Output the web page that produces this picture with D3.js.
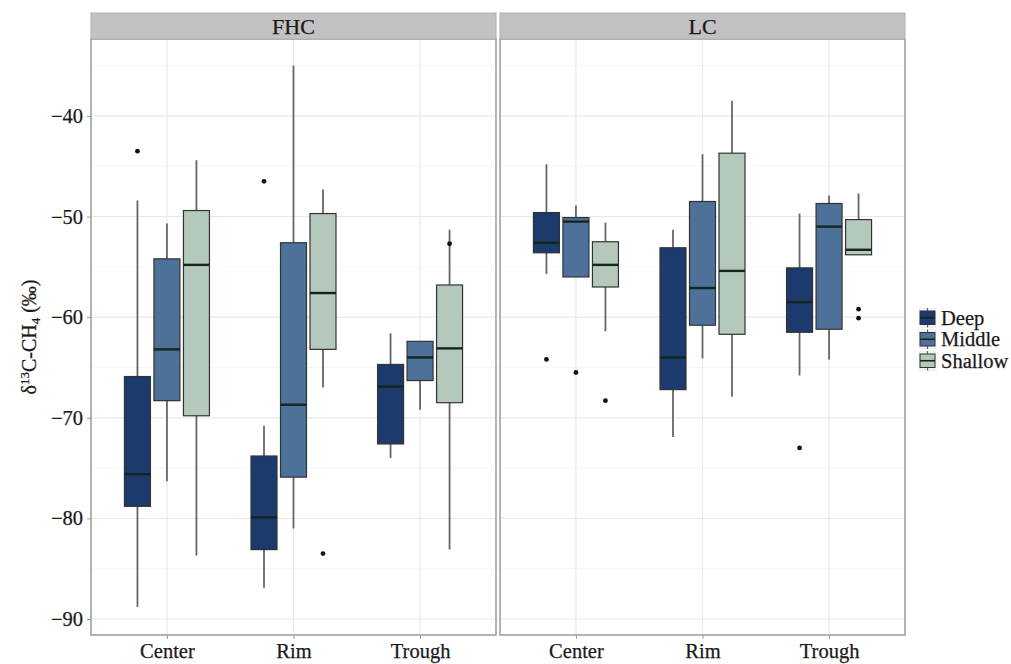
<!DOCTYPE html>
<html><head><meta charset="utf-8">
<script src="https://cdn.jsdelivr.net/npm/d3@7"></script>
<style>body{margin:0;background:#fff}svg{display:block}</style>
</head><body>
<svg id="chart" width="1011" height="664"></svg>
<script>
const panels = ["FHC", "LC"];
const sites = ["Center", "Rim", "Trough"];
const depths = ["Deep", "Middle", "Shallow"];
const depthColors = ["#1d3a6c", "#4e7199", "#b4c8bb"];
const yTicks = [-90, -80, -70, -60, -50, -40];

// per site: [lower whisker, Q1, median, Q3, upper whisker]
const fhcDeep    = [[-88.8, -78.8, -75.6, -65.9, -48.4], [-86.9, -83.1, -79.9, -73.8, -70.8], [-74.0, -72.6, -66.9, -64.7, -61.6]];
const fhcMiddle  = [[-76.3, -68.3, -63.2, -54.2, -50.7], [-81.0, -75.9, -68.7, -52.6, -35.0], [-69.2, -66.3, -64.0, -62.4, -62.4]];
const fhcShallow = [[-83.7, -69.8, -54.8, -49.4, -44.4], [-67.0, -63.2, -57.6, -49.7, -47.3], [-83.1, -68.5, -63.1, -56.8, -51.3]];
const lcDeep     = [[-55.7, -53.6, -52.6, -49.6, -44.8], [-71.9, -67.2, -64.0, -53.1, -51.3], [-65.8, -61.5, -58.5, -55.1, -49.7]];
const lcMiddle   = [[-56.0, -56.0, -50.5, -50.1, -48.9], [-64.1, -60.8, -57.1, -48.5, -43.8], [-64.2, -61.2, -51.0, -48.7, -47.9]];
const lcShallow  = [[-61.4, -57.0, -54.8, -52.5, -50.6], [-67.9, -61.7, -55.4, -43.7, -38.5], [-53.8, -53.8, -53.3, -50.3, -47.7]];

// outliers: [site, depth, value]
const fhcOutliers = [["Center", "Deep", -43.5], ["Rim", "Deep", -46.5], ["Rim", "Shallow", -83.5], ["Trough", "Shallow", -52.7]];
const lcOutliers  = [["Center", "Deep", -64.2], ["Center", "Middle", -65.5], ["Center", "Shallow", -68.3],
                     ["Trough", "Deep", -73.0], ["Trough", "Shallow", -59.2], ["Trough", "Shallow", -60.1]];

const panelStats = {FHC: [fhcDeep, fhcMiddle, fhcShallow], LC: [lcDeep, lcMiddle, lcShallow]};
const panelOutliers = {FHC: fhcOutliers, LC: lcOutliers};

const svg = d3.select("#chart");
const font = "'Liberation Serif', 'Times New Roman', serif";
const textCol = "#1a1a1a";
const plotTop = 39, plotBottom = 635, stripTop = 13;
const panelX = {FHC: [91, 496], LC: [500, 905]};

const y = d3.scaleLinear().domain([-91.59, -32.35]).range([plotBottom, plotTop]);
const dodge = d3.scalePoint().domain(depths).range([-29.5, 29.5]);
const color = d3.scaleOrdinal().domain(depths).range(depthColors);
const boxW = 26;

function styleText(sel, size) {
  sel.attr("font-family", font).attr("font-size", size).attr("fill", textCol)
     .attr("stroke", textCol).attr("stroke-width", 0.25);
}

panels.forEach(p => {
  const [x0, x1] = panelX[p];
  const x = d3.scalePoint().domain(sites).range([x0, x1]).padding(0.6);
  const g = svg.append("g");

  const minor = d3.range(-85, -32, 10);
  g.selectAll(".minor").data(minor).join("line")
    .attr("x1", x0).attr("x2", x1).attr("y1", d => y(d)).attr("y2", d => y(d))
    .attr("stroke", "#f4f4f4").attr("stroke-width", 0.8);
  g.selectAll(".major").data(yTicks).join("line")
    .attr("x1", x0).attr("x2", x1).attr("y1", d => y(d)).attr("y2", d => y(d))
    .attr("stroke", "#e9e9e9").attr("stroke-width", 1.2);
  g.selectAll(".vgrid").data(sites).join("line")
    .attr("x1", d => x(d)).attr("x2", d => x(d)).attr("y1", plotTop).attr("y2", plotBottom)
    .attr("stroke", "#e9e9e9").attr("stroke-width", 1.2);

  const stats = panelStats[p];
  const recs = [];
  depths.forEach((dep, di) => sites.forEach((s, si) => {
    const [lo, q1, med, q3, hi] = stats[di][si];
    recs.push({site: s, depth: dep, lo, q1, med, q3, hi});
  }));
  const bg = g.selectAll(".box").data(recs).join("g")
    .attr("transform", d => `translate(${x(d.site) + dodge(d.depth)},0)`);
  bg.append("line").attr("x1", 0).attr("x2", 0).attr("y1", d => y(d.hi)).attr("y2", d => y(d.q3))
    .attr("stroke", "#666").attr("stroke-width", 1.8);
  bg.append("line").attr("x1", 0).attr("x2", 0).attr("y1", d => y(d.q1)).attr("y2", d => y(d.lo))
    .attr("stroke", "#666").attr("stroke-width", 1.8);
  bg.append("rect").attr("x", -boxW / 2).attr("width", boxW)
    .attr("y", d => y(d.q3)).attr("height", d => y(d.q1) - y(d.q3))
    .attr("fill", d => color(d.depth)).attr("stroke", "#333").attr("stroke-width", 1.2);
  bg.append("line").attr("x1", -boxW / 2).attr("x2", boxW / 2).attr("y1", d => y(d.med)).attr("y2", d => y(d.med))
    .attr("stroke", "#15261f").attr("stroke-width", 2.4);

  g.selectAll(".out").data(panelOutliers[p]).join("circle")
    .attr("cx", d => x(d[0]) + dodge(d[1])).attr("cy", d => y(d[2])).attr("r", 2.4).attr("fill", "#111");

  g.append("rect").attr("x", x0).attr("y", plotTop).attr("width", x1 - x0).attr("height", plotBottom - plotTop)
    .attr("fill", "none").attr("stroke", "#a0a0a0").attr("stroke-width", 1.6);
  g.append("rect").attr("x", x0).attr("y", stripTop).attr("width", x1 - x0).attr("height", plotTop - stripTop)
    .attr("fill", "#c2c2c2").attr("stroke", "#b0b0b0").attr("stroke-width", 1);
  g.append("text").attr("x", (x0 + x1) / 2).attr("y", 33.5).attr("text-anchor", "middle")
    .call(styleText, 22).text(p);

  const xa = g.append("g").attr("transform", `translate(0,${plotBottom})`)
    .call(d3.axisBottom(x).tickSize(4).tickPadding(4));
  xa.select(".domain").remove();
  xa.selectAll(".tick line").attr("stroke", "#999");
  xa.selectAll("text").call(styleText, 20.5);

  if (p === "FHC") {
    const ya = g.append("g").attr("transform", `translate(${x0},0)`)
      .call(d3.axisLeft(y).tickValues(yTicks).tickSize(4).tickPadding(4).tickFormat(d => "\u2212" + Math.abs(d)));
    ya.select(".domain").remove();
    ya.selectAll(".tick line").attr("stroke", "#999");
    ya.selectAll("text").call(styleText, 20.5);
  }
});

const yt = svg.append("text").attr("transform", `translate(36,${(plotTop + plotBottom) / 2}) rotate(-90)`)
  .attr("text-anchor", "middle").call(styleText, 20);
yt.append("tspan").text("\u03b4");
yt.append("tspan").attr("font-size", 13).attr("dy", -7).text("13");
yt.append("tspan").attr("dy", 7).text("C-CH");
yt.append("tspan").attr("font-size", 13).attr("dy", 4).text("4");
yt.append("tspan").attr("dy", -4).text(" (\u2030)");

const lg = svg.append("g").attr("transform", "translate(918,307)");
const rowH = 21.5;
depths.forEach((d, i) => {
  const r = lg.append("g").attr("transform", `translate(0,${i * rowH})`);
  r.append("rect").attr("x", 0).attr("y", 0).attr("width", 19).attr("height", rowH)
    .attr("fill", "#f2f2f2").attr("stroke", "#fff");
  r.append("line").attr("x1", 9.5).attr("x2", 9.5).attr("y1", 1).attr("y2", rowH - 1).attr("stroke", "#666").attr("stroke-width", 1.2);
  r.append("rect").attr("x", 2).attr("y", 4).attr("width", 15).attr("height", rowH - 8)
    .attr("fill", color(d)).attr("stroke", "#333").attr("stroke-width", 1);
  r.append("line").attr("x1", 2).attr("x2", 17).attr("y1", rowH / 2).attr("y2", rowH / 2).attr("stroke", "#15261f").attr("stroke-width", 1.6);
  r.append("text").attr("x", 23).attr("y", rowH / 2 + 7).call(styleText, 20.5).text(d);
});
</script>
</body></html>
